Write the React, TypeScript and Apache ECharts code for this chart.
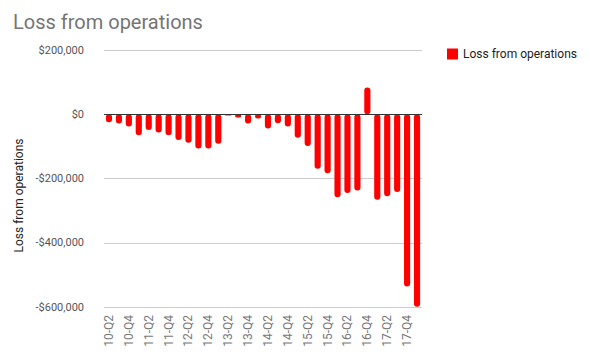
import React, { useEffect, useRef } from "react";
import * as echarts from "echarts";

const categories = [
  "10-Q2", "10-Q3", "10-Q4",
  "11-Q1", "11-Q2", "11-Q3", "11-Q4",
  "12-Q1", "12-Q2", "12-Q3", "12-Q4",
  "13-Q1", "13-Q2", "13-Q3", "13-Q4",
  "14-Q1", "14-Q2", "14-Q3", "14-Q4",
  "15-Q1", "15-Q2", "15-Q3", "15-Q4",
  "16-Q1", "16-Q2", "16-Q3", "16-Q4",
  "17-Q1", "17-Q2", "17-Q3", "17-Q4",
  "18-Q1",
];

const lossValues = [
  -25000, -29000, -38000,
  -65000, -49000, -57000, -65000,
  -80000, -89000, -107000, -107000,
  -92000, -4000, -10000, -29000,
  -13000, -44000, -28000, -38000,
  -73000, -99000, -170000, -184000,
  -258000, -245000, -237000, 83000,
  -266000, -255000, -242000, -536000,
  -599000,
];

const yTicks = { min: -600000, max: 200000, interval: 200000 };

const fmt = (v: number) => {
  const s = "$" + Math.abs(v).toLocaleString("en-US");
  return v < 0 ? "-" + s : s;
};

export default function App() {
  const ref = useRef<HTMLDivElement>(null);
  useEffect(() => {
    document.body.style.margin = "0";
    const chart = echarts.init(ref.current!, null, { renderer: "svg" });
    chart.setOption({
      animation: false,
      backgroundColor: "#ffffff",
      textStyle: { fontFamily: "Roboto" },
      title: {
        text: "Loss from operations",
        left: 8,
        top: 7,
        textStyle: { fontSize: 20, fontWeight: "normal", color: "#757575", fontFamily: "Roboto" },
      },
      legend: {
        left: 442,
        top: 43,
        icon: "rect",
        itemWidth: 11,
        itemHeight: 11,
        itemGap: 8,
        textStyle: { fontSize: 12, color: "#222222", fontFamily: "Roboto" },
        data: ["Loss from operations"],
      },
      grid: { left: 104, right: 168, top: 50, bottom: 51, containLabel: false, outerBoundsMode: "none" },
      xAxis: {
        type: "category",
        data: categories,
        axisLine: { show: false, onZero: false },
        axisTick: { show: false },
        axisLabel: {
          rotate: 90,
          interval: 1,
          fontSize: 12,
          color: "#777777",
          margin: 8,
          fontFamily: "Roboto",
        },
      },
      yAxis: {
        type: "value",
        min: yTicks.min,
        max: yTicks.max,
        interval: yTicks.interval,
        name: "Loss from operations",
        nameLocation: "middle",
        nameGap: 76,
        nameTextStyle: { fontSize: 12, color: "#222222", fontFamily: "Roboto", padding: [0, 34, 0, 0] },
        axisLine: { show: false },
        axisTick: { show: false },
        axisLabel: { formatter: fmt, fontSize: 11, color: "#555555", margin: 20, fontFamily: "Roboto" },
        splitLine: { lineStyle: { color: "#cccccc", width: 1 } },
      },
      series: [
        {
          name: "Loss from operations",
          type: "bar",
          data: lossValues,
          barWidth: "62%",
          itemStyle: { color: "#ff0000", borderRadius: 3 },
          markLine: {
            silent: true,
            symbol: "none",
            label: { show: false },
            lineStyle: { color: "#333333", width: 1, type: "solid" },
            data: [{ yAxis: 0 }],
          },
        },
      ],
    });
    return () => chart.dispose();
  }, []);
  return <div ref={ref} style={{ width: 590, height: 358 }} />;
}
